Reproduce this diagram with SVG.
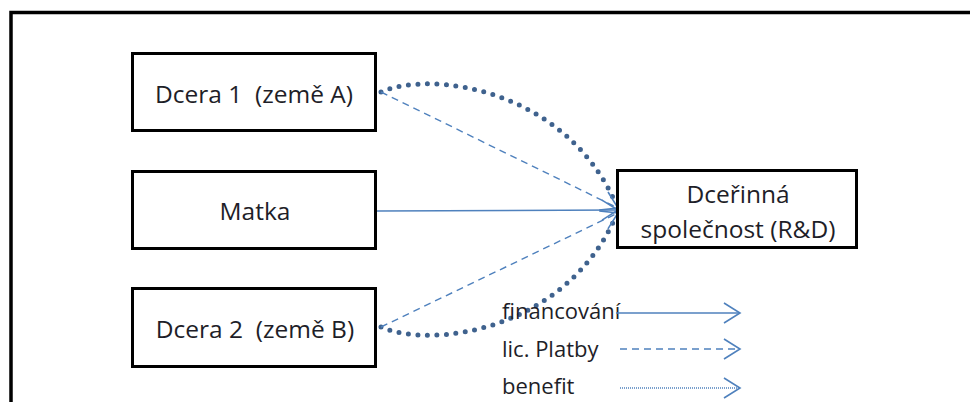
<svg xmlns="http://www.w3.org/2000/svg" width="970" height="402" viewBox="0 0 970 402">
<defs>
<style>
.box{fill:#fff;stroke:#000;stroke-width:3}
.t{font-family:"Open Sans","Noto Sans",sans-serif;font-size:24.5px;fill:#1e1e28;text-anchor:middle;white-space:pre}
.lg{font-family:"Open Sans","Noto Sans",sans-serif;font-size:22px;fill:#1e1e28}
.solid{fill:none;stroke:#4f81bd;stroke-width:1.6}
.dash{fill:none;stroke:#4f81bd;stroke-width:1.4;stroke-dasharray:7 5}
.dots{fill:none;stroke:#3f628e;stroke-width:5;stroke-linecap:round;stroke-dasharray:0 9.5}
.fine{fill:none;stroke:#4f81bd;stroke-width:1.4;stroke-dasharray:1 1}
</style>
<marker id="arr" markerWidth="20" markerHeight="22" refX="17" refY="11" orient="auto" markerUnits="userSpaceOnUse">
<path d="M1,1 L17,11 L1,21" fill="none" stroke="#4f81bd" stroke-width="1.6"/>
</marker>
</defs>
<rect width="970" height="402" fill="#fff"/>
<path d="M11,402 V12.5 H970" fill="none" stroke="#000" stroke-width="3.5"/>
<g id="connectors">
<path class="dots" d="M381,92 C430,70 565,88 616,204"/>
<path class="dots" d="M381,327 C430,349 565,332 616,216"/>
<path class="dash" d="M381,92 L618,208" marker-end="url(#arr)"/>
<path class="dash" d="M381,327 L618,213" marker-end="url(#arr)"/>
<path class="solid" d="M377,211 L618,210" marker-end="url(#arr)"/>
</g>
<g id="dcera1">
<rect class="box" x="132.5" y="53.5" width="243" height="77"/>
<text class="t" x="254" y="103" xml:space="preserve">Dcera 1  (země A)</text>
</g>
<g id="matka">
<rect class="box" x="132.5" y="171.5" width="243" height="77"/>
<text class="t" x="255" y="220">Matka</text>
</g>
<g id="dcera2">
<rect class="box" x="132.5" y="288.5" width="243" height="78"/>
<text class="t" x="255" y="338" xml:space="preserve">Dcera 2  (země B)</text>
</g>
<g id="rd">
<rect class="box" x="617.5" y="170.5" width="239" height="77"/>
<text class="t" x="738" y="203">Dceřinná</text>
<text class="t" x="738" y="238">společnost (R&amp;D)</text>
</g>
<g id="legend">
<text class="lg" x="502" y="319">financování</text>
<path class="solid" d="M616,313 L740,313" marker-end="url(#arr)"/>
<text class="lg" x="502" y="357">lic. Platby</text>
<path class="dash" d="M620,349 L740,349" marker-end="url(#arr)"/>
<text class="lg" x="502" y="394">benefit</text>
<path class="fine" d="M620,388 L740,388" marker-end="url(#arr)"/>
</g>
</svg>
